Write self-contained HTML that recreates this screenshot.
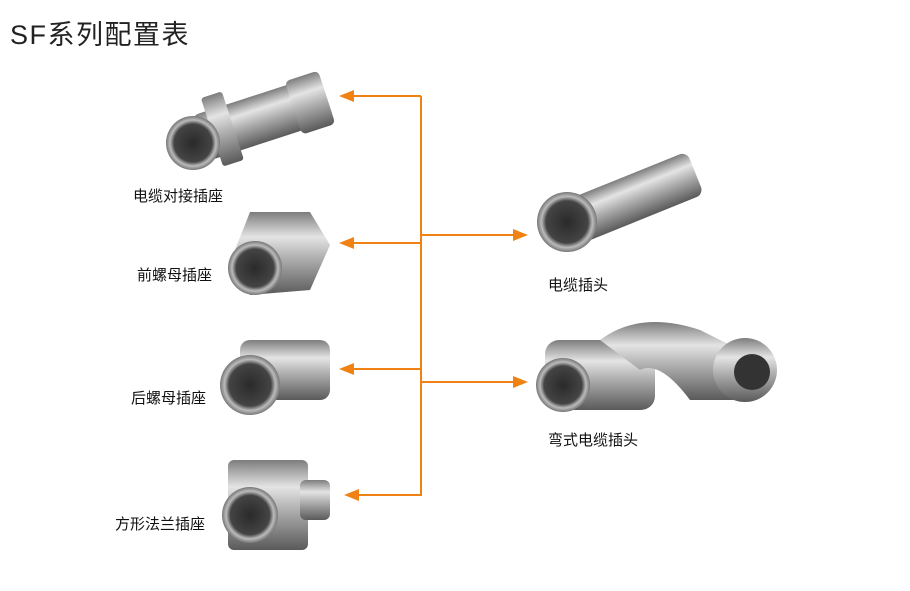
<!DOCTYPE html>
<html><head><meta charset="utf-8"><style>
html,body{margin:0;padding:0;background:#fff;}
body{width:910px;height:591px;position:relative;overflow:hidden;font-family:"Liberation Sans","Noto Sans CJK SC",sans-serif;}
.t{position:absolute;color:#111;font-size:15px;white-space:nowrap;}
</style></head><body>
<div class="t" style="left:10px;top:13px;font-size:27px;color:#222;letter-spacing:1.5px;">SF系列配置表</div>
<svg width="910" height="591" style="position:absolute;left:0;top:0">
<defs>
<linearGradient id="m" x1="0" y1="0" x2="0" y2="1">
<stop offset="0" stop-color="#7d7d7d"/><stop offset="0.3" stop-color="#e4e4e4"/><stop offset="0.55" stop-color="#b0b0b0"/><stop offset="1" stop-color="#5a5a5a"/></linearGradient>
<radialGradient id="f" cx="0.5" cy="0.5" r="0.5"><stop offset="0" stop-color="#2a2a2a"/><stop offset="0.7" stop-color="#444"/><stop offset="0.85" stop-color="#bbb"/><stop offset="1" stop-color="#777"/></radialGradient>
</defs>
<g fill="#f08214" stroke="#f08214" stroke-width="2">
<line x1="421" y1="96" x2="421" y2="496"/>
<line x1="350" y1="96" x2="421" y2="96"/>
<line x1="350" y1="243" x2="421" y2="243"/>
<line x1="350" y1="369" x2="421" y2="369"/>
<line x1="355" y1="495" x2="421" y2="495"/>
<line x1="421" y1="235" x2="516" y2="235"/>
<line x1="421" y1="382" x2="516" y2="382"/>
<polygon stroke="none" points="339,96 354,90 354,102"/>
<polygon stroke="none" points="339,243 354,237 354,249"/>
<polygon stroke="none" points="339,369 354,363 354,375"/>
<polygon stroke="none" points="344,495 359,489 359,501"/>
<polygon stroke="none" points="528,235 513,229 513,241"/>
<polygon stroke="none" points="528,382 513,376 513,388"/>
</g>
<!-- 1 -->
<g transform="rotate(-18 250 120)"><rect x="195" y="98" width="135" height="48" rx="8" fill="url(#m)"/><rect x="210" y="84" width="22" height="72" rx="3" fill="url(#m)"/><rect x="295" y="94" width="35" height="56" rx="5" fill="url(#m)"/></g>
<circle cx="193" cy="143" r="27" fill="url(#f)"/>
<!-- 2 -->
<polygon points="250,212 310,212 330,245 310,290 250,295 235,250" fill="url(#m)"/>
<circle cx="255" cy="268" r="27" fill="url(#f)"/>
<!-- 3 -->
<rect x="240" y="340" width="90" height="60" rx="10" fill="url(#m)"/>
<circle cx="250" cy="385" r="30" fill="url(#f)"/>
<!-- 4 -->
<rect x="228" y="460" width="80" height="90" rx="6" fill="url(#m)"/>
<rect x="300" y="480" width="30" height="40" rx="6" fill="url(#m)"/>
<circle cx="250" cy="515" r="28" fill="url(#f)"/>
<!-- plug -->
<g transform="rotate(-22 620 200)"><rect x="560" y="180" width="140" height="46" rx="8" fill="url(#m)"/></g>
<circle cx="567" cy="222" r="30" fill="url(#f)"/>
<!-- elbow -->
<rect x="545" y="340" width="110" height="70" rx="14" fill="url(#m)"/>
<path d="M600 340 Q640 310 700 330 L740 350 L735 400 L690 400 Q660 360 640 370 Z" fill="url(#m)"/>
<circle cx="745" cy="370" r="32" fill="url(#m)"/><circle cx="752" cy="372" r="18" fill="#333"/>
<circle cx="563" cy="385" r="27" fill="url(#f)"/>
</svg>
<div class="t" style="left:133px;top:185px;">电缆对接插座</div>
<div class="t" style="left:137px;top:264px;">前螺母插座</div>
<div class="t" style="left:131px;top:387px;">后螺母插座</div>
<div class="t" style="left:115px;top:513px;">方形法兰插座</div>
<div class="t" style="left:548px;top:274px;">电缆插头</div>
<div class="t" style="left:548px;top:429px;">弯式电缆插头</div>
</body></html>
